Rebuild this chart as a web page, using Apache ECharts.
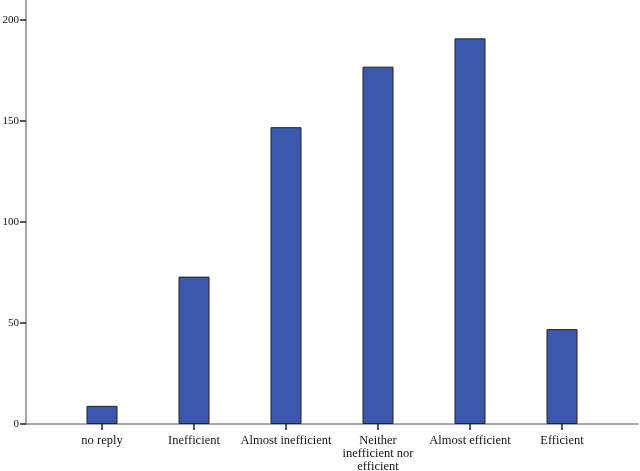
<!DOCTYPE html>
<html lang="en">
<head>
    <meta charset="UTF-8">
    <title>Efficiency</title>
    <script src="https://cdn.jsdelivr.net/npm/echarts@6/dist/echarts.min.js"></script>
    <style>
        html, body { margin: 0; padding: 0; background: #fff; }
        #main { width: 640px; height: 471px; }
    </style>
</head>
<body>
<div id="main"></div>
<script type="text/javascript">
    // data
    var categories = ['no reply', 'Inefficient', 'Almost inefficient', 'Neither\ninefficient nor\nefficient', 'Almost efficient', 'Efficient'];
    var counts = [9, 73, 147, 177, 191, 47];
    var yTicks = [0, 50, 100, 150, 200];

    var font = '"Liberation Serif", "DejaVu Serif", serif';
    var myChart = echarts.init(document.getElementById('main'));

    var option = {
        animation: false,
        grid: [
            // outer frame: just the two axis lines and the y ticks
            {left: 26, right: 2, top: 0, bottom: 47, outerBoundsMode: 'none'},
            // inner grid where the bars live
            {left: 56, width: 552, top: 0, bottom: 47, outerBoundsMode: 'none'}
        ],
        xAxis: [
            {
                gridIndex: 0, type: 'value', min: 0, max: 1,
                axisLine: {show: true, lineStyle: {color: '#8a8a8a', width: 1.5}},
                axisTick: {show: false}, axisLabel: {show: false}, splitLine: {show: false}
            },
            {
                gridIndex: 1, type: 'category', data: categories,
                axisLine: {show: false},
                axisTick: {show: true, alignWithLabel: true, length: 6, lineStyle: {color: '#222', width: 1.5}},
                axisLabel: {color: '#111', fontFamily: font, fontSize: 12.5, lineHeight: 13, margin: 10, interval: 0},
                splitLine: {show: false}
            }
        ],
        yAxis: [
            {
                gridIndex: 0, type: 'value', min: 0, max: 210,
                axisLine: {show: true, lineStyle: {color: '#8a8a8a', width: 1.5}},
                axisTick: {show: true, length: 6, customValues: yTicks, lineStyle: {color: '#222', width: 1.5}},
                axisLabel: {color: '#111', fontFamily: font, fontSize: 11, margin: 7, customValues: yTicks},
                splitLine: {show: false}
            },
            {
                gridIndex: 1, type: 'value', min: 0, max: 210,
                show: false
            }
        ],
        series: [
            {
                type: 'bar',
                xAxisIndex: 1, yAxisIndex: 1,
                data: counts,
                barWidth: 31,
                itemStyle: {color: '#3c58aa', borderColor: '#222', borderWidth: 1}
            }
        ]
    };

    myChart.setOption(option);
</script>
</body>
</html>
